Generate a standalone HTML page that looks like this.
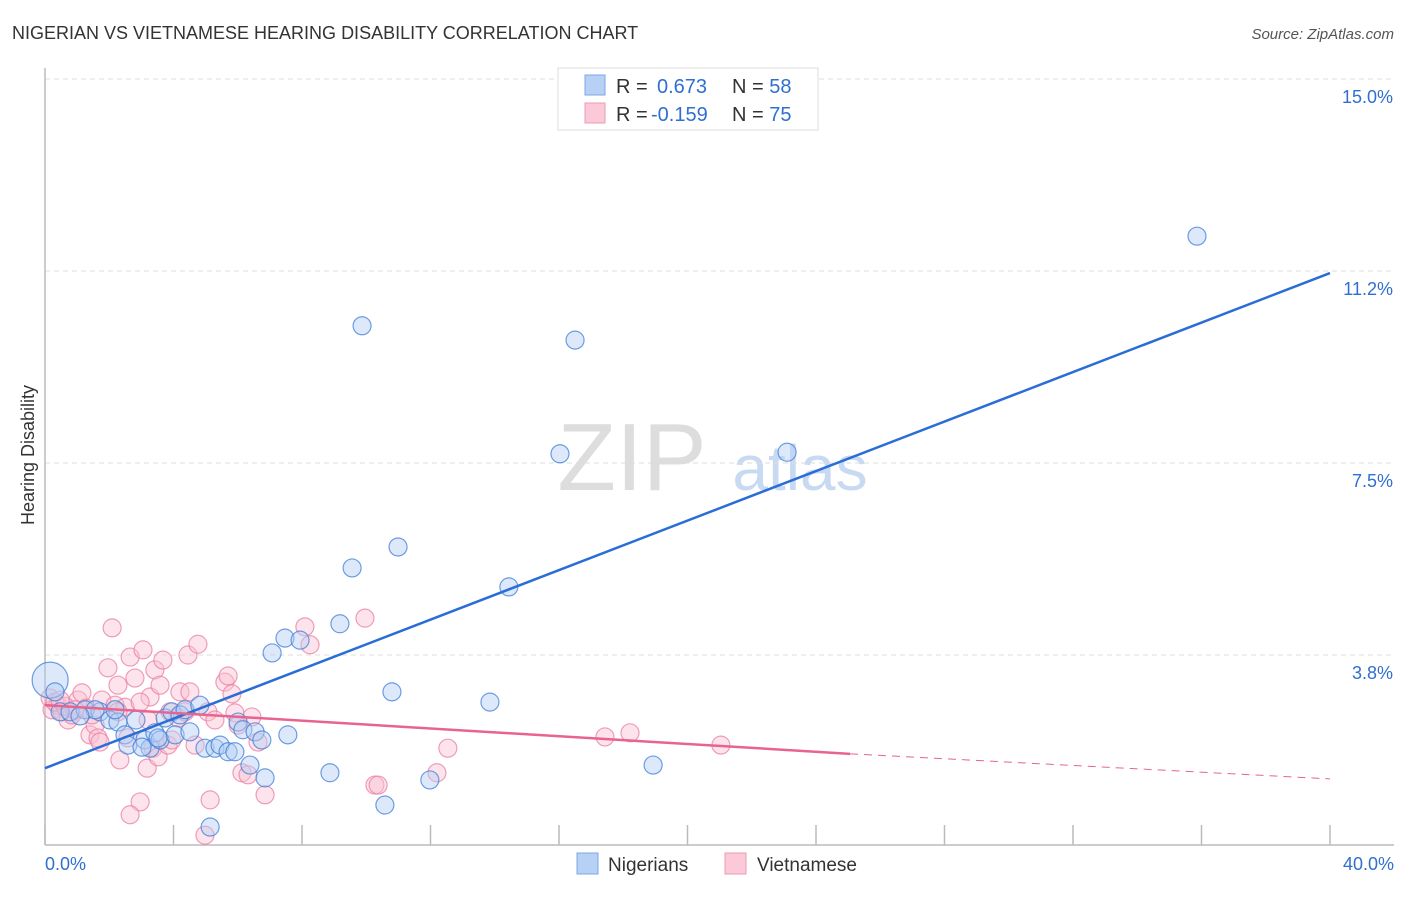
<!DOCTYPE html>
<html><head><meta charset="utf-8"><style>
body{margin:0;background:#fff;font-family:"Liberation Sans",sans-serif}
svg text{font-family:"Liberation Sans",sans-serif}
</style></head><body>
<svg width="1406" height="892" xmlns="http://www.w3.org/2000/svg">
<text x="12" y="39" font-size="18" fill="#333">NIGERIAN VS VIETNAMESE HEARING DISABILITY CORRELATION CHART</text>
<text x="1394" y="39" font-size="15" fill="#555" font-style="italic" text-anchor="end">Source: ZipAtlas.com</text>
<text x="632" y="490" font-size="96" fill="#ddd" font-family="Liberation Serif" text-anchor="middle">ZIP</text>
<text x="800" y="490" font-size="64" fill="#c8daf2" text-anchor="middle">atlas</text>
<g id="grid"></g>
<g id="axes"></g>
<g id="pts"></g>
<g id="lines"></g>
<text x="34" y="455" font-size="18" fill="#333" text-anchor="middle" transform="rotate(-90 34 455)">Hearing Disability</text>
<g>
<rect x="558" y="68" width="260" height="62" fill="#fff" stroke="#ddd"/>
<rect x="585" y="75" width="20" height="20" fill="#b7d1f5" stroke="#7aa7e6"/>
<rect x="585" y="103" width="20" height="20" fill="#fbc9d8" stroke="#ee9ab5"/>
<text x="616" y="93" font-size="20" fill="#333">R = <tspan fill="#2f6fd1" x="657">0.673</tspan><tspan x="732" fill="#333">N = </tspan><tspan fill="#2f6fd1">58</tspan></text>
<text x="616" y="121" font-size="20" fill="#333">R = <tspan fill="#2f6fd1" x="651">-0.159</tspan><tspan x="732" fill="#333">N = </tspan><tspan fill="#2f6fd1">75</tspan></text>
</g>
<g>
<rect x="577" y="853" width="21" height="21" fill="#b7d1f5" stroke="#7aa7e6"/>
<text x="608" y="871" font-size="19" fill="#333">Nigerians</text>
<rect x="725" y="853" width="21" height="21" fill="#fbc9d8" stroke="#ee9ab5"/>
<text x="757" y="871" font-size="19" fill="#333">Vietnamese</text>
</g>
</svg>
<script>
const yTicks=[15,11.25,7.5,3.75];
const yTickLabels=["15.0%","11.2%","7.5%","3.8%"];
const xTicks=[0,4,8,12,16,20,24,28,32,36,40];
const nigX=[0.16,0.31,0.47,0.78,1.25,1.71,2.02,2.27,2.49,2.58,2.83,3.11,3.27,3.42,3.58,3.74,3.95,4.05,4.20,4.36,4.51,4.82,4.98,5.29,5.45,5.70,5.91,6.01,6.16,6.38,6.54,6.75,6.85,7.07,7.47,7.56,7.94,8.87,9.18,9.56,9.87,10.58,10.80,10.99,11.98,13.85,14.44,16.03,16.50,18.93,23.10,35.86,5.14,3.52,3.02,2.18,1.56,1.09];
const nigY=[3.26,3.03,2.64,2.64,2.68,2.64,2.48,2.44,2.19,1.99,2.48,2.09,1.93,2.23,2.09,2.52,2.64,2.19,2.58,2.68,2.25,2.77,1.93,1.93,1.99,1.86,1.86,2.44,2.29,1.60,2.25,2.09,1.35,3.79,4.08,2.19,4.04,1.45,4.36,5.45,10.18,0.82,3.03,5.86,1.31,2.83,5.08,7.68,9.90,1.60,7.71,11.93,0.39,2.13,1.95,2.68,2.68,2.56];
const vieX=[0.16,0.22,0.40,0.53,0.72,0.84,1.03,1.15,1.28,1.40,1.56,1.65,1.77,1.96,2.09,2.18,2.27,2.33,2.49,2.58,2.65,2.80,2.96,3.05,3.18,3.27,3.36,3.42,3.52,3.58,3.67,3.83,3.95,4.14,4.20,4.36,4.45,4.51,4.67,4.76,4.98,5.07,5.14,5.29,5.60,5.70,5.82,5.91,6.01,6.13,6.32,6.44,6.63,6.85,8.09,8.25,9.96,10.27,10.37,12.20,12.54,17.43,18.21,21.04,2.65,0.31,0.62,0.93,2.96,1.71,0.47,2.27,3.89,3.21,1.46];
const vieY=[2.91,2.68,2.77,2.64,2.48,2.58,2.87,3.01,2.71,2.19,2.38,2.13,2.87,3.50,4.28,2.77,3.16,1.70,2.73,2.13,3.71,3.30,0.88,3.85,1.54,2.93,1.93,3.46,1.76,3.16,3.65,1.99,2.09,2.52,3.03,2.64,3.75,3.03,1.99,3.96,0.23,2.64,0.92,2.48,3.22,3.34,2.99,2.62,2.38,1.45,1.41,2.54,2.05,1.02,4.30,3.95,4.47,1.21,1.21,1.45,1.93,2.15,2.23,1.99,0.63,2.83,2.75,2.68,2.83,2.05,2.87,2.64,2.64,2.48,2.58];
const nigTrend=[0,1.54,40,11.21];
const vieTrend=[0,2.77,25.06,1.82,40,1.33];
const NS="http://www.w3.org/2000/svg";
const X=v=>45+v*(1285/40), Y=v=>847-v*51.2;
function mk(t,a,p){const e=document.createElementNS(NS,t);for(const k in a)e.setAttribute(k,a[k]);p.appendChild(e);return e;}
const grid=document.getElementById('grid'),axes=document.getElementById('axes'),pts=document.getElementById('pts'),lines=document.getElementById('lines');
yTicks.forEach((t,i)=>{
 const l=mk('line',{x1:45,x2:1394,y1:Y(t),y2:Y(t),stroke:'#ddd','stroke-dasharray':'5,4'},grid);
 
 
 const tx=mk('text',{x:1393,y:Y(t)+24,'font-size':18,fill:'#2f6fd1','text-anchor':'end'},grid);
 tx.textContent=yTickLabels[i];
 
 
});
const ya=mk('line',{x1:45,x2:45,y1:68,y2:845,stroke:'#bbb','stroke-width':1.5},axes);


const xa=mk('line',{x1:45,x2:1394,y1:845,y2:845,stroke:'#bbb','stroke-width':1.5},axes);


xTicks.forEach(t=>{
 const l=mk('line',{x1:X(t),x2:X(t),y1:825,y2:845,stroke:'#bbb','stroke-width':1.5},axes);
 
 
});
const xl0=mk('text',{x:45,y:870,'font-size':18,fill:'#2f6fd1'},axes);xl0.textContent='0.0%';


const xl1=mk('text',{x:1394,y:870,'font-size':18,fill:'#2f6fd1','text-anchor':'end'},axes);xl1.textContent='40.0%';


function dots(xs,ys,fill,stroke,name){xs.forEach((x,i)=>{
 const r=(name==='nigerian-point'&&i===0)?18:9;
 const c=mk('circle',{cx:X(x),cy:Y(ys[i]),r:r,fill:fill,'fill-opacity':0.45,stroke:stroke,'stroke-opacity':0.75,'stroke-width':1.2},pts);
 
 
});}
dots(vieX,vieY,'#fbc0d2','#ea7fa1','vietnamese-point');
dots(nigX,nigY,'#b3cff3','#3f7fd8','nigerian-point');
const bl=mk('line',{x1:X(nigTrend[0]),y1:Y(nigTrend[1]),x2:X(nigTrend[2]),y2:Y(nigTrend[3]),stroke:'#2a6dd6','stroke-width':2.5},lines);


const pl=mk('line',{x1:X(vieTrend[0]),y1:Y(vieTrend[1]),x2:X(vieTrend[2]),y2:Y(vieTrend[3]),stroke:'#e8648f','stroke-width':2.5},lines);


const pd=mk('line',{x1:X(vieTrend[2]),y1:Y(vieTrend[3]),x2:X(vieTrend[4]),y2:Y(vieTrend[5]),stroke:'#e8648f','stroke-width':1,'stroke-dasharray':'8,6'},lines);


</script>
</body></html>
